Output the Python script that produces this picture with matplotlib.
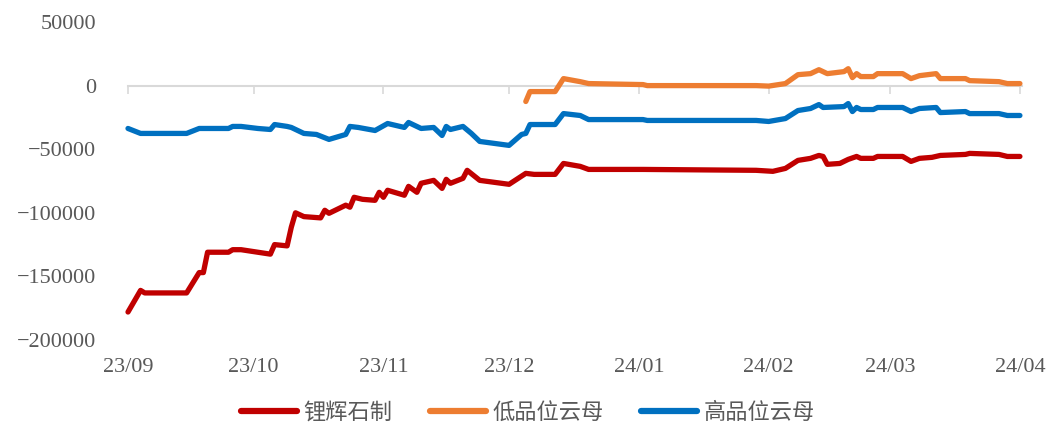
import matplotlib
matplotlib.use("Agg")
import matplotlib.pyplot as plt
import matplotlib.dates as mdates
import pandas as pd

# ---- data ----
red_dates = ["2023-09-01", "2023-09-04", "2023-09-05", "2023-09-15", "2023-09-18", "2023-09-19",
             "2023-09-20", "2023-09-25", "2023-09-26", "2023-09-28", "2023-10-02", "2023-10-04",
             "2023-10-05", "2023-10-06", "2023-10-09", "2023-10-10", "2023-10-11", "2023-10-13",
             "2023-10-17", "2023-10-18", "2023-10-19", "2023-10-22", "2023-10-23", "2023-10-24",
             "2023-10-25", "2023-10-27", "2023-10-30", "2023-10-31", "2023-11-01", "2023-11-02",
             "2023-11-06", "2023-11-07", "2023-11-09", "2023-11-10", "2023-11-13", "2023-11-15",
             "2023-11-16", "2023-11-17", "2023-11-20", "2023-11-21", "2023-11-24", "2023-12-01",
             "2023-12-05", "2023-12-07", "2023-12-12", "2023-12-14", "2023-12-18", "2023-12-20",
             "2024-01-02", "2024-01-29", "2024-02-02", "2024-02-05", "2024-02-08", "2024-02-11",
             "2024-02-13", "2024-02-14", "2024-02-15", "2024-02-18", "2024-02-20", "2024-02-22",
             "2024-02-23", "2024-02-26", "2024-02-27", "2024-03-04", "2024-03-06", "2024-03-08",
             "2024-03-11", "2024-03-13", "2024-03-19", "2024-03-20", "2024-03-27", "2024-03-29",
             "2024-04-01"]
red_vals = [-178000, -161000, -163000, -163000, -147000, -147000,
            -131000, -131000, -129000, -129000, -131000, -132000,
            -132500, -125000, -126000, -111300, -100000, -103000,
            -104000, -98000, -100400, -95600, -94000, -95600,
            -87800, -89400, -90200, -83900, -87800, -82300,
            -86200, -79200, -83900, -76800, -74500, -80800,
            -73700, -76800, -72900, -66600, -74500, -77600,
            -69000, -69800, -69800, -61200, -63500, -65900,
            -65900, -66600, -67400, -65100, -58800, -57200,
            -54900, -55700, -61900, -61200, -58000, -55700,
            -57200, -57200, -55700, -55700, -59600, -57200,
            -56400, -54900, -54100, -53300, -54100, -55700,
            -55700]

blue_dates = ["2023-09-01", "2023-09-04", "2023-09-15", "2023-09-18", "2023-09-25", "2023-09-26",
              "2023-09-28", "2023-10-02", "2023-10-05", "2023-10-06", "2023-10-09", "2023-10-10",
              "2023-10-13", "2023-10-16", "2023-10-19", "2023-10-23", "2023-10-24", "2023-10-26",
              "2023-10-30", "2023-11-02", "2023-11-06", "2023-11-07", "2023-11-10", "2023-11-13",
              "2023-11-15", "2023-11-16", "2023-11-17", "2023-11-20", "2023-11-22", "2023-11-24",
              "2023-12-01", "2023-12-04", "2023-12-05", "2023-12-06", "2023-12-12", "2023-12-14",
              "2023-12-18", "2023-12-20", "2024-01-02", "2024-01-03", "2024-01-29", "2024-02-01",
              "2024-02-05", "2024-02-08", "2024-02-11", "2024-02-13", "2024-02-14", "2024-02-19",
              "2024-02-20", "2024-02-21", "2024-02-22", "2024-02-23", "2024-02-26", "2024-02-27",
              "2024-03-04", "2024-03-06", "2024-03-08", "2024-03-12", "2024-03-13", "2024-03-19",
              "2024-03-20", "2024-03-27", "2024-03-29", "2024-04-01"]
blue_vals = [-33700, -37600, -37600, -33700, -33700, -32100,
             -32100, -33700, -34500, -30600, -32100, -32900,
             -37600, -38400, -42300, -38400, -32100, -32900,
             -35300, -29800, -32900, -29000, -33700, -32900,
             -39200, -32100, -34500, -32100, -37600, -43900,
             -47000, -38400, -37600, -30600, -30600, -22000,
             -23500, -26700, -26700, -27400, -27400, -28200,
             -25900, -19600, -18000, -14900, -17200, -16500,
             -14100, -20400, -17200, -18800, -18800, -17200,
             -17200, -20400, -18000, -17200, -21200, -20400,
             -22000, -22000, -23500, -23500]

orange_dates = ["2023-12-05", "2023-12-06", "2023-12-12", "2023-12-14", "2023-12-18", "2023-12-20",
                "2024-01-02", "2024-01-03", "2024-01-29", "2024-02-01", "2024-02-05", "2024-02-08",
                "2024-02-11", "2024-02-13", "2024-02-15", "2024-02-19", "2024-02-20", "2024-02-21",
                "2024-02-22", "2024-02-23", "2024-02-26", "2024-02-27", "2024-03-04", "2024-03-06",
                "2024-03-08", "2024-03-12", "2024-03-13", "2024-03-19", "2024-03-20", "2024-03-27",
                "2024-03-29", "2024-04-01"]
orange_vals = [-12500, -4700, -4700, 5500, 3100, 1600,
               800, 0, 0, -400, 1600, 8600,
               9400, 12500, 9400, 11000, 13300, 6300,
               9400, 7100, 7100, 9400, 9400, 5500,
               7800, 9400, 5500, 5500, 3900, 3100,
               1600, 1600]

series_names = ["锂辉石制", "低品位云母", "高品位云母"]
series_colors = ["#C00000", "#ED7D31", "#0070C0"]
tick_dates = ["2023-09-01", "2023-10-01", "2023-11-01", "2023-12-01",
              "2024-01-01", "2024-02-01", "2024-03-01", "2024-04-01"]
tick_labels = ["23/09", "23/10", "23/11", "23/12", "24/01", "24/02", "24/03", "24/04"]
y_ticks = [50000, 0, -50000, -100000, -150000, -200000]

# ---- plot ----
fig = plt.figure(figsize=(10.56, 4.25), dpi=100)
ax = fig.add_axes([128 / 1056, 1 - 340 / 425, (1022 - 128) / 1056, (340 - 22) / 425])

data = [(red_dates, red_vals), (orange_dates, orange_vals), (blue_dates, blue_vals)]
for (d, v), name, col in zip(data, series_names, series_colors):
    ax.plot(pd.to_datetime(d), v, color=col, lw=3.8, label=name,
            solid_capstyle="round", solid_joinstyle="round", clip_on=False, zorder=3)

ax.set_ylim(-200000, 50000)
ax.set_xlim(pd.Timestamp("2023-09-01"), pd.Timestamp("2024-04-01 12:00"))
ax.set_yticks(y_ticks)
ax.set_yticklabels([str(t).replace("-", "−") for t in y_ticks])
tdates = pd.to_datetime(tick_dates)
ax.set_xticks(tdates)
ax.set_xticklabels(tick_labels)

for s in ax.spines.values():
    s.set_visible(False)
ax.tick_params(axis="y", length=0, pad=23, labelsize=16, labelcolor="#595959")
ax.tick_params(axis="x", length=0, pad=13, labelsize=16, labelcolor="#595959")
for lab in ax.get_xticklabels() + ax.get_yticklabels():
    lab.set_fontfamily("Liberation Serif")

# axis line at zero with tick marks (drawn below the lines)
sec = ax.secondary_xaxis(0.8)
sec.set_xticks(tdates)
sec.set_xticklabels([])
sec.tick_params(axis="x", which="both", top=True, bottom=False, direction="in",
                length=6, width=1.2, color="#D9D9D9")
for k, sp in sec.spines.items():
    if k == "top":
        sp.set_visible(True)
        sp.set_color("#D9D9D9")
        sp.set_linewidth(1.5)
    else:
        sp.set_visible(False)
sec.set_zorder(1)
ax.set_zorder(2)
ax.patch.set_visible(False)

leg = fig.legend(loc="center", bbox_to_anchor=(0.5, 1 - 412 / 425), ncol=3, frameon=False,
                 prop={"family": ["Noto Sans CJK SC", "DejaVu Sans"], "size": 16},
                 handlelength=2.5, handletextpad=0.3, columnspacing=1.7)
for t in leg.get_texts():
    t.set_color("#595959")
for h in leg.get_lines():
    h.set_linewidth(4.5)
    h.set_solid_capstyle("round")

fig.savefig("out.png", dpi=100)
